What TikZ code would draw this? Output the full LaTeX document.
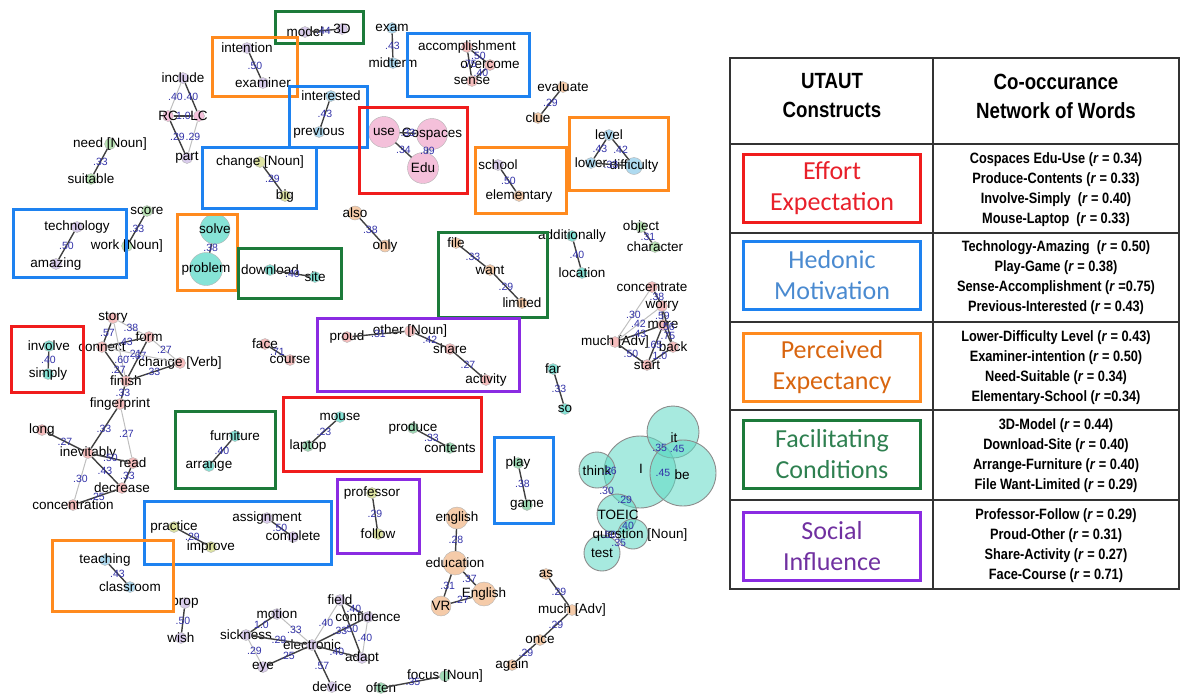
\documentclass[tikz,border=0pt]{standalone}
\usepackage{fontspec}
\setmainfont{Liberation Sans}
\newfontfamily\narrowfont[FakeStretch=0.85]{Liberation Sans}
\newfontfamily\consfont{Carlito}
\definecolor{numblue}{HTML}{3232A8}
\definecolor{fred}{HTML}{F01C1C}
\definecolor{fblue}{HTML}{1E82F0}
\definecolor{forange}{HTML}{FF8A1E}
\definecolor{fgreen}{HTML}{1C7A3A}
\definecolor{fpurple}{HTML}{8A2BE2}
\definecolor{tred}{HTML}{E8202A}
\definecolor{tblue}{HTML}{4A8AD0}
\definecolor{torange}{HTML}{D8650F}
\definecolor{tgreen}{HTML}{2E8050}
\definecolor{tpurple}{HTML}{7030A0}
\definecolor{pinkd}{HTML}{F4C0DA}
\definecolor{lav}{HTML}{D9CCEC}
\definecolor{lgreen}{HTML}{B9E3B4}
\definecolor{ygreen}{HTML}{DDE3A2}
\definecolor{lblue}{HTML}{AEDAF0}
\definecolor{peach}{HTML}{F5CBA9}
\definecolor{salmon}{HTML}{F6BDBD}
\definecolor{aqua}{HTML}{86E3D6}
\definecolor{mint}{HTML}{9ED9B5}
\definecolor{teal}{HTML}{5FD9C4}

\begin{document}
\begin{tikzpicture}[x=1pt,y=-1pt,font=\fontsize{13.5}{15}\selectfont,
  dot/.style={circle,draw=black!30,fill=#1,inner sep=0pt,minimum size=11pt},
  wd/.style={inner sep=0pt,font=\fontsize{13.5}{15}\selectfont},
  wt/.style={inner sep=0pt,text=numblue,font=\fontsize{10.5}{11}\selectfont},
  link/.style={draw=black!75,line width=1.4pt},
  faint/.style={draw=black!25,line width=1pt},
  blob/.style={circle,draw=black!45,line width=.9pt,fill=teal,fill opacity=.55,inner sep=0pt,minimum size=#1},
  frame/.style={draw=#1,line width=3pt},
  tabline/.style={draw=black!80,line width=1.3pt},
  cbox/.style 2 args={draw=#1,text=#2,line width=3pt,minimum width=177pt,minimum height=68pt,align=center,font=\consfont\fontsize{26}{31}\selectfont},
  head/.style={align=center,font=\narrowfont\bfseries\fontsize{22}{29}\selectfont},
  pairs/.style={align=center,font=\narrowfont\bfseries\fontsize{15}{20}\selectfont}]
\useasboundingbox (0,0) rectangle (1180,697);

\node[dot=lav,label={[wd]center:model}] (model) at (305,32) {};
\node[dot=lav,label={[wd]center:3D}] (threeD) at (342,29) {};
\node[dot=lav,label={[wd]center:intention}] (intention) at (247,48) {};
\node[dot=lav,label={[wd]center:examiner}] (examiner) at (263,83) {};
\node[dot=lav,label={[wd]center:include}] (include) at (183,78) {};
\node[dot=pinkd,label={[wd]center:RC}] (RC) at (168,116) {};
\node[dot=pinkd,label={[wd]center:LC}] (LC) at (199,116) {};
\node[dot=lav,label={[wd]center:part}] (part) at (187,158) {};
\node[dot=lgreen,label={[wd]center:need [Noun]}] (need) at (110,144) {};
\node[dot=lgreen,label={[wd]center:suitable}] (suitable) at (91,179) {};
\node[dot=ygreen,label={[wd]center:change [Noun]}] (changeN) at (260,162) {};
\node[dot=ygreen,label={[wd]center:big}] (big) at (285,196) {};
\node[dot=lblue,label={[wd]center:interested}] (interested) at (331,96) {};
\node[dot=lblue,label={[wd]center:previous}] (previous) at (319,132) {};
\node[dot=lblue,label={[wd]center:exam}] (exam) at (392,28) {};
\node[dot=lblue,label={[wd]center:midterm}] (midterm) at (393,63) {};
\node[dot=salmon,label={[wd]center:accomplishment}] (accomplishment) at (467,47) {};
\node[dot=salmon,label={[wd]center:overcome}] (overcome) at (490,65) {};
\node[dot=salmon,label={[wd]center:sense}] (sense) at (472,81) {};
\node[dot=pinkd,minimum size=31pt,label={[wd]center:use}] (use) at (384,132) {};
\node[dot=pinkd,minimum size=31pt,label={[wd]center:Cospaces}] (Cospaces) at (432,134) {};
\node[dot=pinkd,minimum size=31pt,label={[wd]center:Edu}] (Edu) at (423,168) {};
\node[dot=peach,label={[wd]center:evaluate}] (evaluate) at (563,87) {};
\node[dot=peach,label={[wd]center:clue}] (clue) at (538,118) {};
\node[dot=lav,label={[wd]center:school}] (school) at (498,165) {};
\node[dot=peach,label={[wd]center:elementary}] (elementary) at (519,196) {};
\node[dot=lblue,label={[wd]center:level}] (level) at (609,135) {};
\node[dot=lblue,label={[wd]center:lower}] (lower) at (591,163) {};
\node[dot=lblue,minimum size=17pt,label={[wd]center:difficulty}] (difficulty) at (634,166) {};

\node[dot=lav,label={[wd]center:technology}] (technology) at (77,227) {};
\node[dot=lav,label={[wd]center:amazing}] (amazing) at (56,264) {};
\node[dot=lgreen,label={[wd]center:score}] (score) at (147,211) {};
\node[dot=lgreen,label={[wd]center:work [Noun]}] (work) at (127,246) {};
\node[dot=aqua,minimum size=30pt,label={[wd]center:solve}] (solve) at (215,229) {};
\node[dot=aqua,minimum size=33pt,label={[wd]center:problem}] (problem) at (206,269) {};
\node[dot=aqua,label={[wd]center:download}] (download) at (270,270) {};
\node[dot=aqua,label={[wd]center:site}] (site) at (315,277) {};
\node[dot=peach,minimum size=14pt,label={[wd]center:also}] (also) at (355,213) {};
\node[dot=peach,minimum size=12pt,label={[wd]center:only}] (only) at (385,246) {};
\node[dot=peach,label={[wd]center:file}] (file) at (456,243) {};
\node[dot=peach,label={[wd]center:want}] (want) at (490,270) {};
\node[dot=peach,label={[wd]center:limited}] (limited) at (522,303) {};
\node[dot=aqua,label={[wd]center:additionally}] (additionally) at (572,236) {};
\node[dot=aqua,label={[wd]center:location}] (location) at (582,273) {};
\node[dot=lgreen,label={[wd]center:object}] (object) at (641,227) {};
\node[dot=lgreen,label={[wd]center:character}] (character) at (655,247) {};
\node[dot=salmon,label={[wd]center:concentrate}] (concentrate) at (652,287) {};
\node[dot=salmon,label={[wd]center:worry}] (worry) at (662,306) {};
\node[dot=salmon,label={[wd]center:more}] (more) at (663,325) {};
\node[dot=salmon,label={[wd]center:much [Adv]}] (muchA) at (615,342) {};
\node[dot=salmon,label={[wd]center:back}] (back) at (673,347) {};
\node[dot=salmon,label={[wd]center:start}] (start) at (647,365) {};
\node[dot=aqua,label={[wd]center:involve}] (involve) at (49,346) {};
\node[dot=aqua,label={[wd]center:simply}] (simply) at (48,374) {};
\node[dot=salmon,label={[wd]center:story}] (story) at (113,318) {};
\node[dot=salmon,label={[wd]center:connect}] (connect) at (102,347) {};
\node[dot=salmon,label={[wd]center:form}] (form) at (149,337) {};
\node[dot=salmon,label={[wd]center:change [Verb]}] (changeV) at (180,363) {};
\node[dot=salmon,label={[wd]center:finish}] (finish) at (126,381) {};
\node[dot=salmon,label={[wd]center:fingerprint}] (fingerprint) at (120,404) {};
\node[dot=salmon,label={[wd]center:face}] (face) at (265,344) {};
\node[dot=salmon,label={[wd]center:course}] (course) at (290,360) {};
\node[dot=salmon,label={[wd]center:proud}] (proud) at (347,337) {};
\node[dot=salmon,label={[wd]center:other [Noun]}] (other) at (410,331) {};
\node[dot=salmon,label={[wd]center:share}] (share) at (450,349) {};
\node[dot=salmon,label={[wd]center:activity}] (activity) at (486,380) {};
\node[dot=aqua,label={[wd]center:far}] (far) at (553,369) {};
\node[dot=aqua,label={[wd]center:so}] (so) at (565,409) {};

\node[dot=salmon,label={[wd]center:long}] (long) at (42,430) {};
\node[dot=salmon,label={[wd]center:inevitably}] (inevitably) at (88,453) {};
\node[dot=salmon,label={[wd]center:read}] (read) at (133,463) {};
\node[dot=salmon,label={[wd]center:decrease}] (decrease) at (122,488) {};
\node[dot=salmon,label={[wd]center:concentration}] (concentration) at (73,505) {};
\node[dot=aqua,label={[wd]center:furniture}] (furniture) at (235,436) {};
\node[dot=aqua,label={[wd]center:arrange}] (arrange) at (209,466) {};
\node[dot=aqua,label={[wd]center:mouse}] (mouse) at (340,417) {};
\node[dot=mint,label={[wd]center:laptop}] (laptop) at (308,446) {};
\node[dot=mint,label={[wd]center:produce}] (produce) at (413,428) {};
\node[dot=mint,label={[wd]center:contents}] (contents) at (450,448) {};
\node[dot=mint,label={[wd]center:play}] (play) at (518,463) {};
\node[dot=mint,label={[wd]center:game}] (game) at (527,505) {};
\node[dot=ygreen,label={[wd]center:professor}] (professor) at (372,493) {};
\node[dot=ygreen,label={[wd]center:follow}] (follow) at (378,534) {};
\node[dot=peach,minimum size=22pt,label={[wd]center:english}] (english) at (457,518) {};
\node[dot=peach,minimum size=24pt,label={[wd]center:education}] (education) at (455,563) {};
\node[dot=peach,minimum size=24pt,label={[wd]center:English}] (English) at (484,594) {};
\node[dot=peach,minimum size=20pt,label={[wd]center:VR}] (VR) at (441,606) {};
\node[dot=ygreen,label={[wd]center:practice}] (practice) at (174,527) {};
\node[dot=ygreen,label={[wd]center:improve}] (improve) at (211,547) {};
\node[dot=lav,label={[wd]center:assignment}] (assignment) at (267,518) {};
\node[dot=lav,label={[wd]center:complete}] (complete) at (293,537) {};
\node[dot=lblue,label={[wd]center:teaching}] (teaching) at (105,560) {};
\node[dot=lblue,label={[wd]center:classroom}] (classroom) at (130,587) {};
\node[dot=lav,label={[wd]center:prop}] (prop) at (185,603) {};
\node[dot=lav,label={[wd]center:wish}] (wish) at (181,638) {};
\node[dot=lav,label={[wd]center:motion}] (motion) at (277,614) {};
\node[dot=lav,label={[wd]center:sickness}] (sickness) at (246,635) {};
\node[dot=lav,label={[wd]center:eye}] (eye) at (263,667) {};
\node[dot=lav,label={[wd]center:electronic}] (electronic) at (312,645) {};
\node[dot=lav,label={[wd]center:device}] (device) at (332,687) {};
\node[dot=lav,label={[wd]center:field}] (field) at (340,600) {};
\node[dot=lav,label={[wd]center:confidence}] (confidence) at (368,617) {};
\node[dot=lav,label={[wd]center:adapt}] (adapt) at (362,658) {};
\node[dot=mint,label={[wd]center:often}] (often) at (381,688) {};
\node[dot=mint,label={[wd]center:focus [Noun]}] (focus) at (445,676) {};
\node[dot=peach,label={[wd]center:as}] (as) at (546,574) {};
\node[dot=peach,label={[wd]center:much [Adv]}] (muchB) at (572,610) {};
\node[dot=peach,label={[wd]center:once}] (once) at (540,640) {};
\node[dot=peach,label={[wd]center:again}] (again) at (512,665) {};

\node[blob=72pt] (I) at (640,472) {};
\node[blob=52pt] (it) at (673,432) {};
\node[blob=66pt] (be) at (683,473) {};
\node[blob=36pt] (think) at (597,470) {};
\node[blob=40pt] (TOEIC) at (617,514) {};
\node[blob=30pt] (question) at (633,534) {};
\node[blob=36pt] (test) at (602,553) {};
\node[wd] (I-t) at (641,469) {I};
\node[wd] (it-t) at (674,438) {it};
\node[wd] (be-t) at (682,475) {be};
\node[wd] (think-t) at (597,471) {think};
\node[wd] (TOEIC-t) at (618,515) {TOEIC};
\node[wd] (question-t) at (640,535) {question [Noun]};
\node[wd] (test-t) at (602,553) {test};

\draw[link] (model) -- node[wt]{.44} (threeD);
\draw[link] (intention) -- node[wt]{.50} (examiner);
\draw[faint] (include) -- node[wt]{.40} (RC);
\draw[link] (include) -- node[wt]{.40} (LC);
\draw[link] (RC) -- node[wt]{1.0} (LC);
\draw[link] (RC) -- node[wt]{.29} (part);
\draw[faint] (LC) -- node[wt]{.29} (part);
\draw[link] (need) -- node[wt]{.33} (suitable);
\draw[link] (changeN) -- node[wt]{.29} (big);
\draw[link] (interested) -- node[wt]{.43} (previous);
\draw[link] (exam) -- node[wt]{.43} (midterm);
\draw[link] (accomplishment) -- node[wt]{.50} (overcome);
\draw[link] (accomplishment) -- node[wt]{.75} (sense);
\draw[link] (overcome) -- node[wt]{.40} (sense);
\draw[link] (use) -- node[wt]{.33} (Cospaces);
\draw[link] (use) -- node[wt]{.34} (Edu);
\draw[link] (Cospaces) -- node[wt]{.89} (Edu);
\draw[link] (evaluate) -- node[wt]{.29} (clue);
\draw[link] (school) -- node[wt]{.50} (elementary);
\draw[link] (level) -- node[wt]{.43} (lower);
\draw[link] (level) -- node[wt]{.42} (difficulty);
\draw[link] (lower) -- node[wt]{.33} (difficulty);
\draw[link] (technology) -- node[wt]{.50} (amazing);
\draw[link] (score) -- node[wt]{.33} (work);
\draw[link] (solve) -- node[wt]{.38} (problem);
\draw[link] (download) -- node[wt]{.40} (site);
\draw[link] (also) -- node[wt]{.38} (only);
\draw[link] (file) -- node[wt]{.33} (want);
\draw[link] (want) -- node[wt]{.29} (limited);
\draw[link] (additionally) -- node[wt]{.40} (location);
\draw[link] (object) -- node[wt]{.31} (character);
\draw[link] (concentrate) -- node[wt]{.38} (worry);
\draw[faint] (concentrate) -- node[wt]{.30} (muchA);
\draw[faint] (muchA) -- node[wt]{.42} (worry);
\draw[link] (muchA) -- node[wt]{.43} (more);
\draw[link] (worry) -- node[wt]{.59} (more);
\draw[link] (worry) -- node[wt]{.56} (back);
\draw[link] (more) -- node[wt]{.75} (back);
\draw[link] (more) -- node[wt]{.65} (start);
\draw[link] (muchA) -- node[wt]{.50} (start);
\draw[link] (back) -- node[wt]{1.0} (start);
\draw[link] (involve) -- node[wt]{.40} (simply);
\draw[link] (story) -- node[wt]{.57} (connect);
\draw[faint] (story) -- node[wt]{.38} (form);
\draw[link] (connect) -- node[wt]{.43} (form);
\draw[faint] (form) -- node[wt]{.27} (changeV);
\draw[faint] (story) -- node[wt,pos=.7]{.60} (finish);
\draw[link] (connect) -- node[wt,pos=.75]{.27} (finish);
\draw[link] (form) -- node[wt,pos=.4]{.67} (finish);
\draw[faint] (connect) -- node[wt,pos=.4]{.21} (changeV);
\draw[link] (changeV) -- node[wt]{.33} (finish);
\draw[link] (finish) -- node[wt]{.33} (fingerprint);
\draw[link] (fingerprint) -- node[wt]{.33} (inevitably);
\draw[faint] (fingerprint) -- node[wt]{.27} (read);
\draw[link] (long) -- node[wt]{.27} (inevitably);
\draw[link] (inevitably) -- node[wt]{.50} (read);
\draw[link] (inevitably) -- node[wt]{.43} (decrease);
\draw[link] (read) -- node[wt]{.33} (decrease);
\draw[faint] (inevitably) -- node[wt]{.30} (concentration);
\draw[link] (decrease) -- node[wt]{.25} (concentration);
\draw[link] (face) -- node[wt]{.71} (course);
\draw[link] (proud) -- node[wt]{.31} (other);
\draw[link] (other) -- node[wt]{.42} (share);
\draw[link] (share) -- node[wt]{.27} (activity);
\draw[link] (far) -- node[wt]{.33} (so);
\draw[link] (furniture) -- node[wt]{.40} (arrange);
\draw[link] (mouse) -- node[wt]{.23} (laptop);
\draw[link] (produce) -- node[wt]{.33} (contents);
\draw[link] (play) -- node[wt]{.38} (game);
\draw[link] (professor) -- node[wt]{.29} (follow);
\draw[link] (english) -- node[wt]{.28} (education);
\draw[link] (education) -- node[wt]{.31} (VR);
\draw[link] (education) -- node[wt]{.37} (English);
\draw[link] (VR) -- node[wt]{.27} (English);
\draw[link] (practice) -- node[wt]{.29} (improve);
\draw[link] (assignment) -- node[wt]{.50} (complete);
\draw[link] (teaching) -- node[wt]{.43} (classroom);
\draw[link] (prop) -- node[wt]{.50} (wish);
\draw[link] (motion) -- node[wt]{1.0} (sickness);
\draw[faint] (motion) -- node[wt]{.33} (electronic);
\draw[link] (sickness) -- node[wt]{.29} (electronic);
\draw[faint] (sickness) -- node[wt]{.29} (eye);
\draw[link] (eye) -- node[wt]{.25} (electronic);
\draw[faint] (field) -- node[wt]{.40} (electronic);
\draw[link] (electronic) -- node[wt]{.33} (confidence);
\draw[link] (field) -- node[wt]{.50} (adapt);
\draw[link] (field) -- node[wt]{.40} (confidence);
\draw[faint] (confidence) -- node[wt]{.40} (adapt);
\draw[link] (electronic) -- node[wt]{.40} (adapt);
\draw[link] (electronic) -- node[wt]{.57} (device);
\draw[link] (often) -- node[wt]{.35} (focus);
\draw[link] (as) -- node[wt]{.29} (muchB);
\draw[link] (muchB) -- node[wt]{.29} (once);
\draw[link] (once) -- node[wt]{.29} (again);
\path (I) -- node[wt]{.35} (it);
\path (it) -- node[wt]{.45} (be);
\path (I) -- node[wt]{.45} (be);
\path (think) -- node[wt]{.36} (I);
\path (think) -- node[wt]{.30} (TOEIC);
\path (I) -- node[wt]{.29} (TOEIC);
\path (TOEIC) -- node[wt]{.40} (question);
\path (TOEIC) -- node[wt]{.50} (test);
\path (question) -- node[wt]{.35} (test);

\draw[frame=fgreen] (275,11) rectangle (363,43);
\draw[frame=forange] (212,37) rectangle (297,96);
\draw[frame=fblue] (289,86) rectangle (367,147);
\draw[frame=fblue] (202,147) rectangle (316,208);
\draw[frame=fblue] (407,33) rectangle (529,96);
\draw[frame=fred] (359,107) rectangle (467,193);
\draw[frame=forange] (475,147) rectangle (566,213);
\draw[frame=forange] (569,117) rectangle (668,190);
\draw[frame=fblue] (13,209) rectangle (126,277);
\draw[frame=forange] (177,214) rectangle (237,290);
\draw[frame=fgreen] (238,248) rectangle (341,298);
\draw[frame=fgreen] (438,232) rectangle (547,317);
\draw[frame=fred] (11,326) rectangle (83,392);
\draw[frame=fpurple] (317,318) rectangle (519,391);
\draw[frame=fgreen] (175,411) rectangle (275,488);
\draw[frame=fred] (283,397) rectangle (481,471);
\draw[frame=fblue] (494,437) rectangle (553,523);
\draw[frame=fpurple] (337,479) rectangle (419,553);
\draw[frame=fblue] (144,501) rectangle (331,564);
\draw[frame=forange] (52,540) rectangle (173,611);

\draw[tabline] (730,58) rectangle (1179,589);
\draw[tabline] (933,58) -- (933,589);
\foreach \y in {144,233,322,410,500} \draw[tabline] (730,\y) -- (1179,\y);
\node[head] (utaut) at (832,96) {UTAUT\\Constructs};
\node[head] (cooc) at (1056,96) {Co-occurance\\Network of Words};
\node[cbox={fred}{tred}] (effort) at (832,188.5) {Effort\\Expectation};
\node[cbox={fblue}{tblue}] (hedonic) at (832,275.5) {Hedonic\\Motivation};
\node[cbox={forange}{torange}] (perceived) at (832,367.5) {Perceived\\Expectancy};
\node[cbox={fgreen}{tgreen}] (facilitating) at (832,454.5) {Facilitating\\Conditions};
\node[cbox={fpurple}{tpurple}] (social) at (832,546.5) {Social\\Influence};
\node[pairs] (pairsA) at (1056,190) {Cospaces Edu-Use (\textit{r} = 0.34)\\Produce-Contents (\textit{r} = 0.33)\\Involve-Simply~~(\textit{r} = 0.40)\\Mouse-Laptop~~(\textit{r} = 0.33)};
\node[pairs] (pairsB) at (1056,278) {Technology-Amazing~~(\textit{r} = 0.50)\\Play-Game (\textit{r} = 0.38)\\Sense-Accomplishment (\textit{r} =0.75)\\Previous-Interested (\textit{r} = 0.43)};
\node[pairs] (pairsC) at (1056,368) {Lower-Difficulty Level (\textit{r} = 0.43)\\Examiner-intention (\textit{r} = 0.50)\\Need-Suitable (\textit{r} = 0.34)\\Elementary-School (\textit{r} =0.34)};
\node[pairs] (pairsD) at (1056,456) {3D-Model (\textit{r} = 0.44)\\Download-Site (\textit{r} = 0.40)\\Arrange-Furniture (\textit{r} = 0.40)\\File Want-Limited (\textit{r} = 0.29)};
\node[pairs] (pairsE) at (1056,546) {Professor-Follow (\textit{r} = 0.29)\\Proud-Other (\textit{r} = 0.31)\\Share-Activity (\textit{r} = 0.27)\\Face-Course (\textit{r} = 0.71)};
\end{tikzpicture}
\end{document}
